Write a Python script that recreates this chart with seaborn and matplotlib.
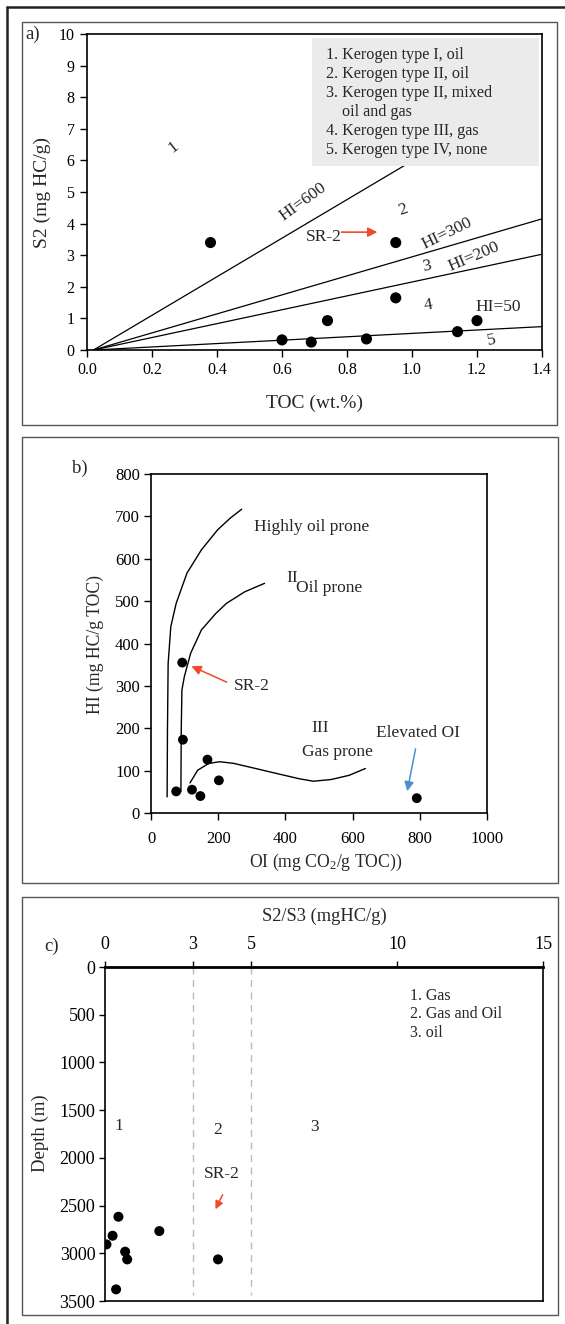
import numpy as np
import pandas as pd
import seaborn as sns
import matplotlib.pyplot as plt
from matplotlib.patches import Rectangle
from matplotlib.lines import Line2D

sns.set_theme(style='white')
plt.rcParams['font.family'] = ['Liberation Serif', 'DejaVu Serif']
plt.rcParams['mathtext.fontset'] = 'custom'
plt.rcParams['mathtext.rm'] = 'Liberation Serif'
plt.rcParams['mathtext.default'] = 'regular'

# ---- panel a: S2 vs TOC
toc = [0.38, 0.95, 0.95, 0.74, 0.60, 0.69, 0.86, 1.14, 1.20]
s2 = [3.4, 3.4, 1.65, 0.93, 0.32, 0.25, 0.35, 0.58, 0.93]
hi_line_labels = ['HI=600', 'HI=300', 'HI=200', 'HI=50']
hi_line_start = [0.02, 0.02, 0.02, 0.02]
hi_line_end_toc = [1.2, 1.4, 1.4, 1.4]
hi_line_end_s2 = [7.2, 4.15, 3.03, 0.74]
kerogen_legend = ['1. Kerogen type I, oil', '2. Kerogen type II, oil',
                  '3. Kerogen type II, mixed', '    oil and gas',
                  '4. Kerogen type III, gas', '5. Kerogen type IV, none']

# ---- panel b: HI vs OI
oi = [75, 93, 95, 122, 147, 168, 202, 791]
hi = [51, 355, 173, 55, 40, 126, 77, 35]
curve1_oi = [48, 49, 51, 59, 75, 107, 150, 198, 236, 270]
curve1_hi = [38, 195, 353, 440, 495, 566, 621, 668, 696, 717]
curve2_oi = [89, 90, 92, 99, 118, 150, 193, 225, 279, 338]
curve2_hi = [50, 195, 290, 321, 377, 432, 471, 495, 522, 542]
curve3_oi = [116, 139, 172, 204, 247, 354, 440, 483, 536, 590, 638]
curve3_hi = [71, 101, 117, 121, 117, 97, 81, 75, 79, 89, 105]

# ---- panel c: depth vs S2/S3
s2s3 = [0.46, 0.26, 0.05, 1.86, 0.69, 0.76, 0.38, 3.87]
depth = [2617, 2816, 2907, 2767, 2983, 3064, 3378, 3064]
s2s3_limits = [3, 5]
s2s3_ticks = [0, 3, 5, 10, 15]
zone_legend = ['1. Gas', '2. Gas and Oil', '3. oil']

W, H = 565, 1324
fig = plt.figure(figsize=(W / 100, H / 100), dpi=100)


def px_axes(l, r, t, b):
    return fig.add_axes([l / W, 1 - b / H, (r - l) / W, (b - t) / H])


def px_box(l, r, t, b, **kw):
    fig.patches.append(Rectangle((l / W, 1 - b / H), (r - l) / W, (b - t) / H,
                                 transform=fig.transFigure, fill=False, **kw))


# outer frame and panel boxes
fig.lines.append(Line2D([7 / W, 1], [1 - 7 / H] * 2, transform=fig.transFigure, color='#222222', lw=1.8))
fig.lines.append(Line2D([7 / W] * 2, [0, 1 - 7 / H], transform=fig.transFigure, color='#222222', lw=1.8))
px_box(22, 557, 22, 425, edgecolor='#555555', lw=1)
px_box(22, 558, 437, 883, edgecolor='#555555', lw=1)
px_box(22, 558, 897, 1315, edgecolor='#555555', lw=1)


def style(ax, tick_size, pad=3, length=4):
    for sp in ax.spines.values():
        sp.set_visible(True)
        sp.set_color('black')
        sp.set_linewidth(1.2)
    ax.tick_params(direction='out', length=length, width=1, colors='black',
                   labelsize=tick_size, pad=pad, left=True, bottom=True)
    ax.grid(False)
    ax.set_facecolor('white')


# ================= panel a
ax = px_axes(87, 542, 34, 350)
style(ax, 11.5, pad=4, length=5)
for x0, x1, y1 in zip(hi_line_start, hi_line_end_toc, hi_line_end_s2):
    ax.plot([x0, x1], [0, y1], color='black', lw=0.9, zorder=2)
sns.scatterplot(x=toc, y=s2, ax=ax, color='black', s=64, edgecolor='none', zorder=4)
ax.add_patch(Rectangle((0.692, 5.82), 0.70, 4.05, facecolor='#ebebeb', edgecolor='none', zorder=3))
for i, t in enumerate(kerogen_legend):
    ax.text(0.735, 9.34 - i * 0.60, t, fontsize=11.6, va='center', ha='left', zorder=5)
ax.set_xlim(0, 1.4)
ax.set_ylim(0, 10)
ax.set_xticks(np.arange(0, 1.41, 0.2))
ax.set_xticklabels([f'{v:.1f}' for v in np.arange(0, 1.41, 0.2)])
ax.set_yticks(range(0, 11))
ax.set_xlabel('TOC (wt.%)', fontsize=14, va='center')
ax.set_ylabel('S2 (mg HC/g)', fontsize=14, va='center')
ax.xaxis.set_label_coords(0.5, -0.168)
ax.yaxis.set_label_coords(-0.099, 0.5)
fs = 12.5
ax.text(0.266, 6.43, '1', rotation=38, fontsize=fs, ha='center', va='center')
ax.text(0.664, 4.69, 'HI=600', rotation=36, fontsize=fs, ha='center', va='center')
ax.text(0.972, 4.44, '2', rotation=20, fontsize=fs, ha='center', va='center')
ax.text(1.107, 3.68, 'HI=300', rotation=26, fontsize=fs, ha='center', va='center')
ax.text(1.046, 2.66, '3', rotation=10, fontsize=fs, ha='center', va='center')
ax.text(1.19, 2.96, 'HI=200', rotation=23, fontsize=fs, ha='center', va='center')
ax.text(1.051, 1.41, '4', rotation=10, fontsize=fs, ha='center', va='center')
ax.text(1.264, 1.35, 'HI=50', fontsize=fs, ha='center', va='center')
ax.text(1.245, 0.32, '5', rotation=10, fontsize=fs, ha='center', va='center')
ax.text(0.674, 3.58, 'SR-2', fontsize=fs, ha='left', va='center')
ax.annotate('', xy=(0.902, 3.73), xytext=(0.775, 3.73),
            arrowprops=dict(arrowstyle='-|>', color='#f04a2a', lw=1.2, mutation_scale=14))
fig.text(25 / W, 1 - 34 / H, 'a)', fontsize=13.5, ha='left', va='center')

# ================= panel b
ax = px_axes(151, 487, 474, 813)
style(ax, 12, pad=3, length=5)
ax.tick_params(axis='x', pad=8)
for cx, cy in [(curve1_oi, curve1_hi), (curve2_oi, curve2_hi), (curve3_oi, curve3_hi)]:
    d = pd.DataFrame({'oi': cx, 'hi': cy})
    sns.lineplot(data=d, x='oi', y='hi', sort=False, estimator=None, ax=ax, color='black', lw=1)
sns.scatterplot(x=oi, y=hi, ax=ax, color='black', s=50, edgecolor='none', zorder=4)
ax.set_xlim(0, 1000)
ax.set_ylim(0, 800)
ax.set_xticks(range(0, 1001, 200))
ax.set_yticks(range(0, 801, 100))
ax.set_xlabel('OI (mg CO$_2$/g TOC))', fontsize=12.7, va='center')
ax.set_ylabel('HI (mg HC/g TOC)', fontsize=12.7, va='center')
ax.xaxis.set_label_coords(0.52, -0.147)
ax.yaxis.set_label_coords(-0.167, 0.496)
fs = 12.5
ax.text(477, 674, 'Highly oil prone', fontsize=fs, ha='center', va='center')
ax.text(404, 555, 'II', fontsize=fs, ha='left', va='center')
ax.text(431, 530, 'Oil prone', fontsize=fs, ha='left', va='center')
ax.text(300, 300, 'SR-2', fontsize=fs, ha='center', va='center')
ax.annotate('', xy=(113, 349), xytext=(233, 306),
            arrowprops=dict(arrowstyle='-|>', color='#f04a2a', lw=1.1, mutation_scale=14))
ax.text(502, 201, 'III', fontsize=fs, ha='center', va='center')
ax.text(556, 144, 'Gas prone', fontsize=fs, ha='center', va='center')
ax.text(794, 188, 'Elevated OI', fontsize=fs, ha='center', va='center')
ax.annotate('', xy=(761, 45), xytext=(789, 158),
            arrowprops=dict(arrowstyle='-|>', color='#4a90d0', lw=1.1, mutation_scale=14))
fig.text(80 / W, 1 - 468 / H, 'b)', fontsize=13.5, ha='center', va='center')

# ================= panel c
ax = px_axes(105, 543, 967, 1301)
style(ax, 13, length=4)
ax.spines['top'].set_linewidth(2)
ax.xaxis.tick_top()
ax.xaxis.set_label_position('top')
ax.tick_params(axis='x', top=True, bottom=False, pad=6)
for v in s2s3_limits:
    ax.plot([v, v], [0, 3440], color='#bbbbbb', lw=1, ls=(0, (5, 4)), zorder=1)
sns.scatterplot(x=s2s3, y=depth, ax=ax, color='black', s=52, edgecolor='none', zorder=4)
ax.set_xlim(0, 15)
ax.set_ylim(3500, 0)
ax.set_xticks(s2s3_ticks)
ax.set_yticks(range(0, 3501, 500))
ax.set_xlabel('S2/S3 (mgHC/g)', fontsize=13.3, va='center')
ax.set_ylabel('Depth (m)', fontsize=13.5, va='center')
ax.xaxis.set_label_coords(0.5, 1.153)
ax.yaxis.set_label_coords(-0.148, 0.503)
for i, t in enumerate(zone_legend):
    ax.text(10.44, 304 + i * 193, t, fontsize=11.5, ha='left', va='center')
ax.text(0.47, 1668, '1', fontsize=12.5, ha='center', va='center')
ax.text(3.85, 1703, '2', fontsize=12.5, ha='center', va='center')
ax.text(7.17, 1675, '3', fontsize=12.5, ha='center', va='center')
ax.text(4.0, 2170, 'SR-2', fontsize=12.5, ha='center', va='center')
ax.annotate('', xy=(3.74, 2565), xytext=(4.07, 2360),
            arrowprops=dict(arrowstyle='-|>', color='#f04a2a', lw=1.1, mutation_scale=12))
fig.text(52 / W, 1 - 946 / H, 'c)', fontsize=13.5, ha='center', va='center')

fig.savefig('out.png', dpi=100, facecolor='white')
